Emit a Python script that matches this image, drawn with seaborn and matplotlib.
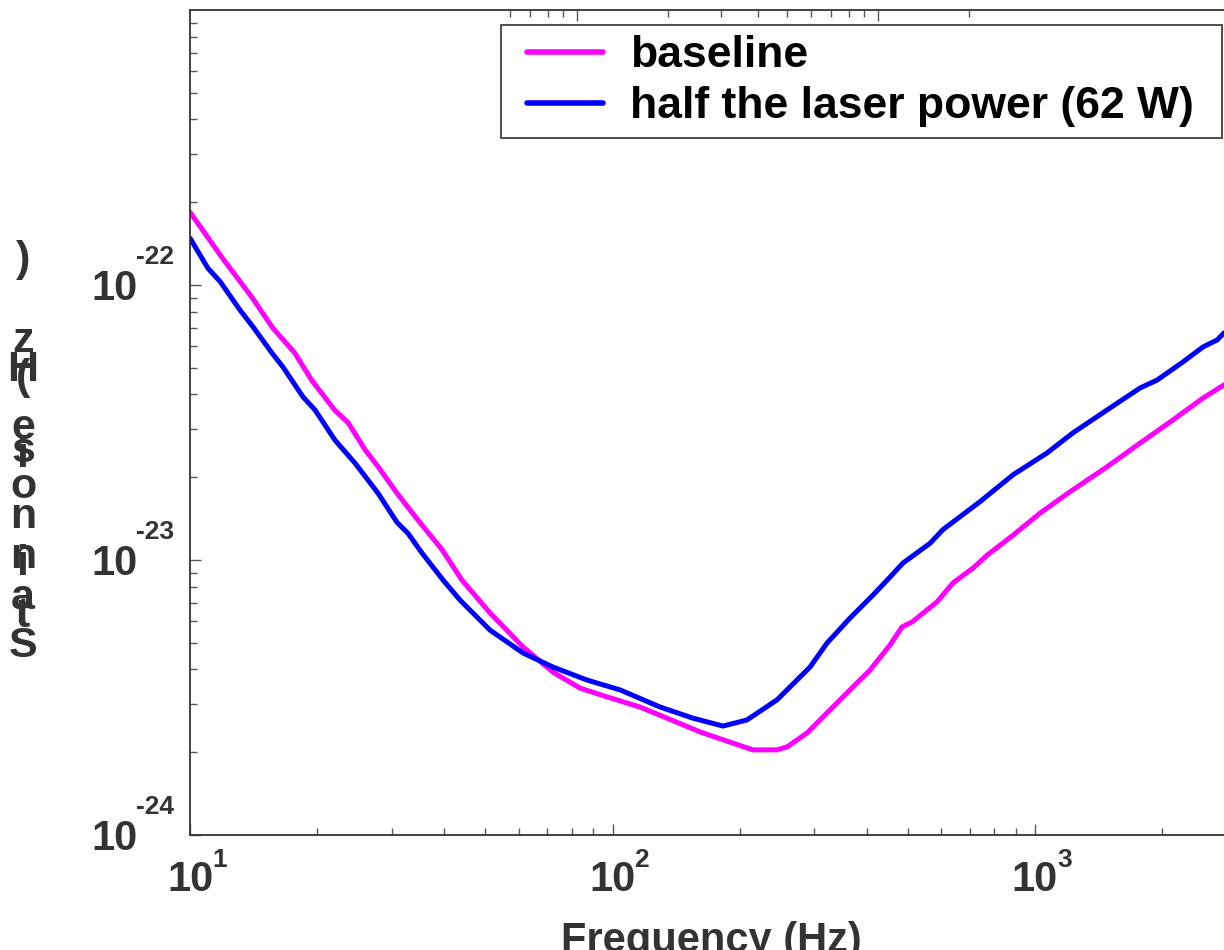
import pandas as pd
import matplotlib
matplotlib.use("Agg")
import matplotlib.pyplot as plt
import matplotlib.ticker as mticker
from matplotlib.lines import Line2D
from matplotlib.legend_handler import HandlerLine2D
import seaborn as sns

# data (frequency in Hz, strain noise in 1/sqrt(Hz))
freq_baseline = [10.0, 11.9, 14.0, 15.7, 17.7, 19.4, 22.0, 23.7, 26.0, 27.9, 30.9, 34.6,
                 39.5, 44.0, 51.3, 61.4, 72.3, 83.8, 97.0, 116.1, 134.6, 161.2, 182.6,
                 215.0, 245.1, 258.8, 288.7, 364.9, 407.0, 453.9, 484.5, 511.6, 586.1,
                 639.5, 713.5, 769.6, 886.9, 1027.5, 1210, 1480, 1772, 2121, 2498, 2801, 3228]
strain_baseline = [1.84e-22, 1.26e-22, 9.04e-23, 6.98e-23, 5.66e-23, 4.51e-23, 3.51e-23,
                   3.15e-23, 2.51e-23, 2.18e-23, 1.75e-23, 1.40e-23, 1.09e-23, 8.46e-24,
                   6.42e-24, 4.83e-24, 3.91e-24, 3.42e-24, 3.18e-24, 2.92e-24, 2.66e-24,
                   2.37e-24, 2.22e-24, 2.04e-24, 2.04e-24, 2.09e-24, 2.35e-24, 3.37e-24,
                   3.98e-24, 4.91e-24, 5.71e-24, 5.95e-24, 7.04e-24, 8.25e-24, 9.35e-24,
                   1.04e-23, 1.23e-23, 1.48e-23, 1.77e-23, 2.18e-23, 2.66e-23, 3.23e-23,
                   3.88e-23, 4.33e-23, 4.91e-23]

freq_half = [10.0, 11.03, 11.78, 13.13, 14.10, 15.63, 16.60, 18.51, 19.77, 22.03, 24.58,
             27.86, 30.90, 32.81, 35.41, 39.70, 43.56, 51.29, 61.41, 72.31, 87.01, 104.2,
             129.6, 155.0, 182.6, 208.1, 245.1, 293.4, 322.0, 364.9, 413.7, 453.9, 487.0,
             564.3, 605.6, 741.1, 886.9, 1067.6, 1230, 1480, 1772, 1945, 2240, 2498, 2697,
             2801, 3228]
strain_half = [1.48e-22, 1.15e-22, 1.03e-22, 8.11e-23, 7.04e-23, 5.66e-23, 5.03e-23,
               3.92e-23, 3.51e-23, 2.73e-23, 2.25e-23, 1.75e-23, 1.37e-23, 1.25e-23,
               1.06e-23, 8.46e-24, 7.15e-24, 5.56e-24, 4.59e-24, 4.08e-24, 3.66e-24,
               3.37e-24, 2.92e-24, 2.66e-24, 2.49e-24, 2.62e-24, 3.10e-24, 4.08e-24,
               4.99e-24, 6.15e-24, 7.46e-24, 8.67e-24, 9.75e-24, 1.15e-23, 1.29e-23,
               1.63e-23, 2.04e-23, 2.45e-23, 2.90e-23, 3.51e-23, 4.22e-23, 4.51e-23,
               5.25e-23, 5.95e-23, 6.31e-23, 6.69e-23, 7.59e-23]

series_names = ["baseline", "half the laser power (62 W)"]
series_colors = ["#ff00ff", "#0000ff"]

xtick_values = [10, 100, 1000]
xtick_base = ["10", "10", "10"]
xtick_exp = ["1", "2", "3"]
ytick_values = [1e-24, 1e-23, 1e-22]
ytick_base = ["10", "10", "10"]
ytick_exp = ["-24", "-23", "-22"]
# the top frame carries its own (offset) log ticks in the reference
top_major = [10, 100]
top_minor = [6, 7, 8, 9, 20, 30, 40, 50, 60, 70, 80, 90, 200]
x_label = "Frequency (Hz)"
# y label is rendered glitched in the reference: upright glyphs stacked bottom-to-top
y_label_chars = ["S", "t", "r", "a", "i", "n", "n", "o", "i", "s", "e", "(", "H", "z", ")"]
y_label_pos = [646, 616, 612, 598, 564, 557, 517, 487, 456, 451, 428, 378, 370, 341, 260]

df = pd.concat([
    pd.DataFrame({"freq": freq_baseline, "strain": strain_baseline, "series": series_names[0]}),
    pd.DataFrame({"freq": freq_half, "strain": strain_half, "series": series_names[1]}),
])

sns.set_theme(style="white")
plt.rcParams["font.family"] = ["Liberation Sans", "DejaVu Sans"]
plt.rcParams["font.weight"] = "bold"

W, H = 1224, 950
fig = plt.figure(figsize=(W / 100, H / 100), dpi=100)
ax = fig.add_axes([190 / W, 1 - 835 / H, (1232 - 190) / W, (835 - 10) / H])
ax.set_xscale("log")
ax.set_yscale("log")

sns.lineplot(data=df, x="freq", y="strain", hue="series", palette=series_colors,
             hue_order=series_names, estimator=None, sort=True, linewidth=3.6, ax=ax)

ax.set_xlim(10, 10 ** (1 + (1232 - 190) / 422.5))
ax.set_ylim(1e-24, 1e-21)

grey = "#333333"
ax.xaxis.set_major_locator(mticker.FixedLocator(xtick_values))
ax.xaxis.set_major_formatter(mticker.FixedFormatter(xtick_base))
ax.yaxis.set_major_locator(mticker.FixedLocator(ytick_values))
ax.yaxis.set_major_formatter(mticker.FixedFormatter(ytick_base))
ax.xaxis.set_minor_formatter(mticker.NullFormatter())
ax.yaxis.set_minor_formatter(mticker.NullFormatter())
ax.tick_params(which="both", direction="in", colors="#555555", labelcolor=grey,
               top=False, right=False, bottom=True, left=True, width=1)
ax.tick_params(which="major", length=8, labelsize=30)
ax.tick_params(axis="y", which="major", pad=38)
ax.tick_params(axis="x", which="major", pad=18)
ax.tick_params(which="minor", length=5)
for s in ax.spines.values():
    s.set_color(grey)
    s.set_linewidth(1.3)

# exponents of the tick labels
for val, e in zip(ytick_values, ytick_exp):
    ax.annotate(e, xy=(0, val), xycoords=ax.get_yaxis_transform(), xytext=(-54, 28),
                textcoords="offset pixels", ha="left", va="center", fontsize=19,
                fontweight="bold", color=grey)
for val, e in zip(xtick_values, xtick_exp):
    ax.annotate(e, xy=(val, 0), xycoords=ax.get_xaxis_transform(), xytext=(22, -25),
                textcoords="offset pixels", ha="left", va="center", fontsize=19,
                fontweight="bold", color=grey)

ax.set_xlabel(x_label, fontsize=30, fontweight="bold", color=grey, labelpad=15)
ax.set_ylabel("")

# top axis ticks
ax2 = ax.twiny()
ax2.set_xscale("log")
ax2.set_xlim(10 ** (1 - 387 / 301), 10 ** (1 + 655 / 301))
ax2.xaxis.set_major_locator(mticker.FixedLocator(top_major))
ax2.xaxis.set_minor_locator(mticker.FixedLocator(top_minor))
ax2.xaxis.set_major_formatter(mticker.NullFormatter())
ax2.xaxis.set_minor_formatter(mticker.NullFormatter())
ax2.tick_params(which="both", direction="in", colors="#555555", labeltop=False, width=1)
ax2.tick_params(which="major", length=8)
ax2.tick_params(which="minor", length=5)
for s in ax2.spines.values():
    s.set_visible(False)

for ch, ypx in zip(y_label_chars, y_label_pos):
    fig.text(23 / W, 1 - ypx / H, ch, fontsize=31, fontweight="bold", color=grey,
             ha="center", va="center")

handles, labels = ax.get_legend_handles_labels()
leg = ax.legend(handles, labels, loc="upper left",
                bbox_to_anchor=(501 / W, 1 - 137 / H, 721 / W, 112 / H),
                bbox_transform=fig.transFigure, mode="expand", borderaxespad=0,
                prop={"weight": "bold", "size": 32}, frameon=True, fancybox=False,
                handlelength=2.07, handletextpad=0.61, labelspacing=0.23, borderpad=0.23,
                handler_map={Line2D: HandlerLine2D(xpad=0.36)})
leg.get_frame().set_edgecolor("#111111")
leg.get_frame().set_linewidth(1.3)
for line in leg.get_lines():
    line.set_linewidth(4)
for t in leg.get_texts():
    t.set_color("black")

fig.savefig("out.png", dpi=100)
